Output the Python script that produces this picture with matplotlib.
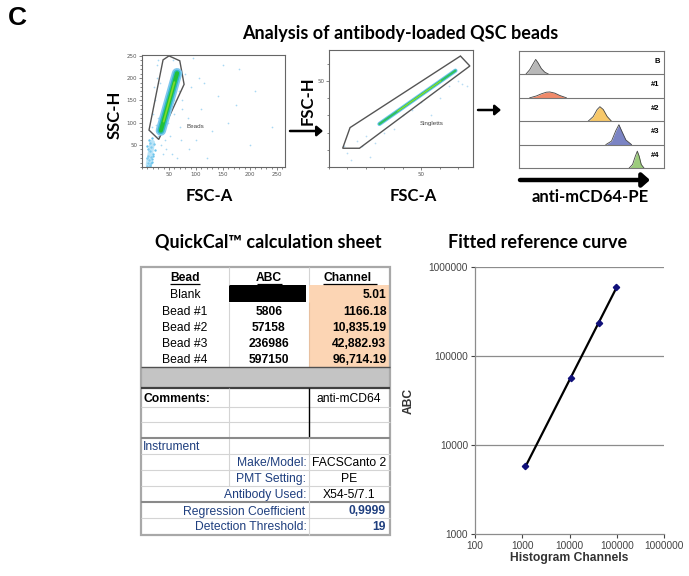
import numpy as np
import matplotlib
matplotlib.use('Agg')
import matplotlib.pyplot as plt
from matplotlib.patches import Polygon, Rectangle

# ---------------- data ----------------
# panel 1 : SSC-H vs FSC-A
gate1_x = [50, 70, 78, 31, 13, 39]
gate1_y = [250, 239, 186, 62, 83, 241]
core1_x = [35, 65]
core1_y = [82, 211]
low1_x = [10, 12, 13, 15, 16, 18, 20, 11, 14, 17, 19, 22, 12, 15, 24, 13, 16, 21, 10, 14, 9, 18]
low1_y = [3, 8, 15, 5, 22, 12, 30, 40, 35, 45, 18, 52, 25, 55, 38, 60, 10, 25, 48, 2, 20, 66]
sparse1_x = [20, 25, 28, 30, 42, 45, 55, 60, 70, 75, 80, 90, 100, 110, 120, 140, 160, 180, 200, 95,
             130, 85, 65, 38, 22, 18, 48, 58, 72, 105, 150, 175, 210, 240, 115, 88, 52, 33, 27, 44,
             26, 30, 36, 60, 68, 74, 40, 29]
sparse1_y = [120, 150, 200, 240, 60, 40, 30, 120, 90, 150, 210, 180, 60, 130, 20, 160, 100, 220, 50, 245,
             80, 110, 20, 30, 180, 90, 100, 240, 60, 200, 230, 140, 170, 90, 190, 40, 70, 190, 230, 160,
             95, 70, 50, 150, 170, 130, 140, 110]

# panel 2 : FSC-H vs FSC-A
gate2_x = [7.4, 11.4, 71.2, 76.3, 16.5]
gate2_y = [10.9, 22.9, 64.5, 58.7, 10.9]
core2_x = [27.3, 68.5]
core2_y = [25.0, 56.0]
sparse2_x = [10, 15, 20, 25, 30, 40, 50, 60, 65, 72, 75, 18, 35, 45, 55, 70, 12, 8, 22, 62]
sparse2_y = [8, 15, 18, 14, 20, 30, 38, 40, 47, 48, 47, 12, 22, 33, 30, 50, 4, 12, 6, 52]

# panel 3 : histograms (anti-mCD64-PE)
hist_labels = ['B', '#1', '#2', '#3', '#4']
hist_colors = ['#b8b8b8', '#f08a6a', '#f7c86a', '#7b84c4', '#9ccb7c']
hist_x = [
    [4.6, 7.4, 9.7, 11.5, 13.1, 15.4, 17.7, 20.7],
    [7.4, 12.0, 15.4, 18.9, 21.2, 24.7, 28.1, 32.7],
    [47.7, 51.2, 53.9, 55.8, 58.1, 60.8, 63.8],
    [59.9, 63.8, 66.8, 68.9, 70.7, 73.7, 77.6],
    [76.0, 78.3, 80.2, 81.6, 82.9, 84.3, 86.2],
]
hist_y = [
    [0, 0.2, 0.45, 0.64, 0.5, 0.25, 0.1, 0],
    [0, 0.08, 0.17, 0.24, 0.25, 0.2, 0.1, 0],
    [0, 0.2, 0.5, 0.62, 0.5, 0.2, 0],
    [0, 0.15, 0.6, 0.85, 0.6, 0.2, 0],
    [0, 0.15, 0.5, 0.72, 0.5, 0.15, 0],
]

# table
bead_names = ['Blank', 'Bead #1', 'Bead #2', 'Bead #3', 'Bead #4']
abc_vals = [None, 5806, 57158, 236986, 597150]
channel_vals = [5.01, 1166.18, 10835.19, 42882.93, 96714.19]
comment_text = 'anti-mCD64'
instr_labels = ['Make/Model:', 'PMT Setting:', 'Antibody Used:']
instr_values = ['FACSCanto 2', 'PE', 'X54-5/7.1']
regression_coef = '0,9999'
detection_threshold = '19'

# ---------------- figure ----------------
W, H = 689, 576
fig = plt.figure(figsize=(W / 100, H / 100), dpi=100)

def box(l, t, r, b):
    return [l / W, 1 - b / H, (r - l) / W, (b - t) / H]

CAL = ['Lato', 'DejaVu Sans']
ARI = ['Liberation Sans', 'DejaVu Sans']
BLUE = '#1f3f7f'

ov = fig.add_axes([0, 0, 1, 1])
ov.set_xlim(0, W)
ov.set_ylim(H, 0)
ov.axis('off')

# labels / titles
ov.text(8, 18, 'C', family=ARI, weight='bold', fontsize=19, ha='left', va='center')
ov.text(400, 33, 'Analysis of antibody-loaded QSC beads', family=CAL, weight='bold',
        fontsize=13, ha='center', va='center')
ov.text(268, 242, 'QuickCal\u2122 calculation sheet', family=CAL, weight='bold',
        fontsize=13, ha='center', va='center')
ov.text(538, 242, 'Fitted reference curve', family=CAL, weight='bold',
        fontsize=13, ha='center', va='center')
ov.text(115, 115, 'SSC-H', family=CAL, weight='bold', fontsize=12, rotation=90,
        ha='center', va='center')
ov.text(209, 196, 'FSC-A', family=CAL, weight='bold', fontsize=12, ha='center', va='center')
ov.text(308, 101, 'FSC-H', family=CAL, weight='bold', fontsize=12, rotation=90,
        ha='center', va='center')
ov.text(413, 196, 'FSC-A', family=CAL, weight='bold', fontsize=12, ha='center', va='center')
ov.text(590, 197, 'anti-mCD64-PE', family=CAL, weight='bold', fontsize=12, ha='center', va='center')

# arrows
def arrow(x0, x1, y, lw=2.0, hw=9, hl=9):
    ov.annotate('', xy=(x1, y), xytext=(x0, y),
                arrowprops=dict(arrowstyle='-|>,head_width=%f,head_length=%f' % (hw / 20, hl / 20),
                                color='black', lw=lw, shrinkA=0, shrinkB=0))

arrow(290, 323, 131, lw=1.8, hw=6, hl=7)
arrow(478, 501, 110, lw=1.8, hw=6, hl=7)
arrow(520, 650, 180, lw=3.2, hw=8, hl=9)

# ---------------- panel 1 ----------------
a1 = fig.add_axes(box(142, 55, 285, 167))
a1.set_xlim(0, 265)
a1.set_ylim(0, 252)
a1.scatter(sparse1_x, sparse1_y, s=1.5, color='#a8d8f4', lw=0)
a1.scatter(low1_x, low1_y, s=3, color='#6cc4ec', lw=0)
a1.plot([12, 19], [5, 55], color='#8fd3f2', lw=4, alpha=0.6, solid_capstyle='round')
a1.plot(core1_x, core1_y, color='#7fc8ee', lw=7.5, solid_capstyle='round')
a1.plot(core1_x, core1_y, color='#30b8c8', lw=5, solid_capstyle='round')
a1.plot(core1_x, core1_y, color='#22c03a', lw=3, solid_capstyle='round')
a1.plot([core1_x[0] + 5, core1_x[1] - 5], [core1_y[0] + 20, core1_y[1] - 20],
        color='#7edc2a', lw=1.2, solid_capstyle='round')
a1.add_patch(Polygon(np.column_stack([gate1_x, gate1_y]), closed=True, fill=False,
                     ec='#555555', lw=1.0))
a1.text(83, 91, 'Beads', fontsize=4.5, color='#444444', family=ARI, va='center')
a1.set_xticks([50, 100, 150, 200, 250])
a1.set_yticks([50, 100, 150, 200, 250])
a1.set_xticks(np.arange(0, 265, 10), minor=True)
a1.set_yticks(np.arange(0, 252, 10), minor=True)
a1.tick_params(labelsize=4, colors='#555555', length=2, width=0.5, pad=1.5)
a1.tick_params(which='minor', length=1.2, width=0.5, colors='#555555')
for s in a1.spines.values():
    s.set_color('#666666'); s.set_linewidth(0.8)

# ---------------- panel 2 ----------------
a2 = fig.add_axes(box(329, 50, 473, 167))
a2.set_xlim(0, 78)
a2.set_ylim(0, 68)
a2.scatter(sparse2_x, sparse2_y, s=1.5, color='#b8dcf4', lw=0)
a2.plot(core2_x, core2_y, color='#6cc4ee', lw=3, solid_capstyle='round')
a2.plot(core2_x, core2_y, color='#30c060', lw=1.6, solid_capstyle='round')
a2.plot([core2_x[0] + 10, core2_x[1] - 8], [core2_y[0] + 7.5, core2_y[1] - 6],
        color='#8ee030', lw=0.8)
a2.add_patch(Polygon(np.column_stack([gate2_x, gate2_y]), closed=True, fill=False,
                     ec='#555555', lw=1.0))
a2.text(55.8, 25.4, 'Singletts', fontsize=4.5, color='#444444', family=ARI,
        ha='center', va='center')
a2.set_xticks([50])
a2.set_yticks([50])
a2.set_xticks(np.arange(0, 78, 10), minor=True)
a2.set_yticks(np.arange(0, 68, 10), minor=True)
a2.tick_params(labelsize=4, colors='#555555', length=2, width=0.5, pad=1.5)
a2.tick_params(which='minor', length=1.2, width=0.5, colors='#555555')
for s in a2.spines.values():
    s.set_color('#666666'); s.set_linewidth(0.8)

# ---------------- panel 3 ----------------
a3 = fig.add_axes(box(519, 51, 664, 168))
a3.set_xlim(0, 100)
a3.set_ylim(0, 5)
n = len(hist_labels)
for i, (lab, c, hx, hy) in enumerate(zip(hist_labels, hist_colors, hist_x, hist_y)):
    base = n - 1 - i
    yy = base + np.array(hy)
    a3.fill_between(hx, base, yy, color=c, lw=0)
    a3.plot(hx, yy, color='#444444', lw=0.6)
    a3.text(97, base + 0.55, lab, fontsize=5.5, weight='bold', family=ARI,
            ha='right', va='center')
    if base > 0:
        a3.axhline(base, color='#777777', lw=0.8)
a3.set_xticks([]); a3.set_yticks([])
for s in a3.spines.values():
    s.set_color('#777777'); s.set_linewidth(0.8)

# ---------------- table ----------------
L, C1, C2, R = 141, 229, 309, 390
T = 267
GRID = '#d4d4d4'
FS = 8.7

def hl(y, x0=L, x1=R, c=GRID, lw=0.8):
    ov.plot([x0, x1], [y, y], color=c, lw=lw, solid_capstyle='butt')

def vl(x, y0, y1, c=GRID, lw=0.8):
    ov.plot([x, x], [y0, y1], color=c, lw=lw, solid_capstyle='butt')

row_edges = [285, 302.3, 318.4, 334.5, 350.6, 366.7]
# peach column
ov.add_patch(Rectangle((C2, 285), R - C2, 366.7 - 285, color='#fcd5b4', lw=0))
# black blank cell
ov.add_patch(Rectangle((C1, 285), 306 - C1, 302.3 - 285, color='black', lw=0))
# grey band
ov.add_patch(Rectangle((L, 366.7), R - L, 388 - 366.7, color='#c4c4c4', lw=0))

# header
ov.text(185, 278, 'Bead', family=ARI, weight='bold', fontsize=FS, ha='center', va='center')
ov.text(269, 278, 'ABC', family=ARI, weight='bold', fontsize=FS, ha='center', va='center')
ov.text(348, 278, 'Channel', family=ARI, weight='bold', fontsize=FS, ha='center', va='center')
hl(284.3, 170, 200, c='black', lw=0.9)
hl(284.3, 257, 282, c='black', lw=0.9)
hl(284.3, 323, 377, c='black', lw=0.9)

for i, (nm, ab, ch) in enumerate(zip(bead_names, abc_vals, channel_vals)):
    yc = (row_edges[i] + row_edges[i + 1]) / 2 + 1.2
    ov.text(185, yc, nm, family=ARI, fontsize=FS, ha='center', va='center')
    if ab is not None:
        ov.text(269, yc, str(ab), family=ARI, weight='bold', fontsize=FS, ha='center', va='center')
    lab = f'{ch:,.2f}' if ch >= 10000 else f'{ch:.2f}'
    ov.text(386.5, yc, lab, family=ARI, weight='bold', fontsize=FS, ha='right', va='center')

# grid lines top section
vl(C1, T, 285)
vl(C2, T, 285)
vl(C1, 302.3, 366.7)
vl(C2, 302.3, 366.7, c='#e8c0a0')
hl(366.7, c='#505050', lw=1.0)
hl(388, c='#404040', lw=1.6)

# comments section
ov.text(144, 399, 'Comments:', family=ARI, weight='bold', fontsize=FS, ha='left', va='center')
ov.text(349, 399, comment_text, family=ARI, fontsize=FS, ha='center', va='center')
hl(407)
hl(422)
vl(C1, 388, 486)
vl(C2, 388, 438, c='black', lw=1.0)
hl(438, c='#8a8a8a', lw=1.5)

# instrument section
ov.text(143, 447, 'Instrument', family=ARI, fontsize=FS, color=BLUE, ha='left', va='center')
hl(454)
inst_edges = [454, 470, 486, 502]
for i, (lb, vv) in enumerate(zip(instr_labels, instr_values)):
    yc = (inst_edges[i] + inst_edges[i + 1]) / 2 + 1
    ov.text(306.5, yc, lb, family=ARI, fontsize=FS, color=BLUE, ha='right', va='center')
    ov.text(349, yc, vv, family=ARI, fontsize=FS, ha='center', va='center')
hl(470)
hl(486)
hl(502, c='#8a8a8a', lw=1.5)
ov.text(305, 511.5, 'Regression Coefficient', family=ARI, fontsize=FS, color=BLUE,
        ha='right', va='center')
ov.text(386, 511.5, regression_coef, family=ARI, weight='bold', fontsize=FS, color=BLUE,
        ha='right', va='center')
hl(518)
ov.text(306.5, 527, 'Detection Threshold:', family=ARI, fontsize=FS, color=BLUE,
        ha='right', va='center')
ov.text(386, 527, detection_threshold, family=ARI, weight='bold', fontsize=FS, color=BLUE,
        ha='right', va='center')
vl(C2, 438, 535)

# outer border
ov.add_patch(Rectangle((L, T), R - L, 535 - T, fill=False, ec='#a8a8a8', lw=1.6))

# ---------------- fitted curve ----------------
a4 = fig.add_axes(box(475, 267, 664, 534))
a4.set_xscale('log')
a4.set_yscale('log')
a4.set_xlim(100, 1e6)
a4.set_ylim(1e3, 1e6)
cx = np.array(channel_vals[1:])
cy = np.array(abc_vals[1:], dtype=float)
coef = np.polyfit(np.log10(cx), np.log10(cy), 1)
fx = np.array([cx.min(), cx.max()])
a4.plot(fx, 10 ** np.polyval(coef, np.log10(fx)), color='black', lw=1.6, zorder=2)
a4.plot(cx, cy, 'D', color='#10107a', ms=3.2, zorder=3)
for yv in [1e4, 1e5, 1e6]:
    a4.axhline(yv, color='#8c8c8c', lw=0.9, zorder=1)
a4.set_xticks([1e2, 1e3, 1e4, 1e5, 1e6])
a4.set_xticklabels(['100', '1000', '10000', '100000', '1000000'])
a4.set_yticks([1e3, 1e4, 1e5, 1e6])
a4.set_yticklabels(['1000', '10000', '100000', '1000000'])
a4.minorticks_off()
a4.tick_params(labelsize=7.3, colors='#444444', length=3, width=0.8, pad=2)
for lab in a4.get_xticklabels() + a4.get_yticklabels():
    lab.set_family(ARI)
for s in ['top', 'right']:
    a4.spines[s].set_visible(False)
for s in ['left', 'bottom']:
    a4.spines[s].set_color('#8c8c8c'); a4.spines[s].set_linewidth(0.9)
a4.set_xlabel('Histogram Channels', family=ARI, weight='bold', fontsize=8.7,
              color='#333333', labelpad=1)
a4.set_ylabel('ABC', family=ARI, weight='bold', fontsize=8.7, color='#333333', labelpad=10)

fig.savefig('out.png', dpi=100)
